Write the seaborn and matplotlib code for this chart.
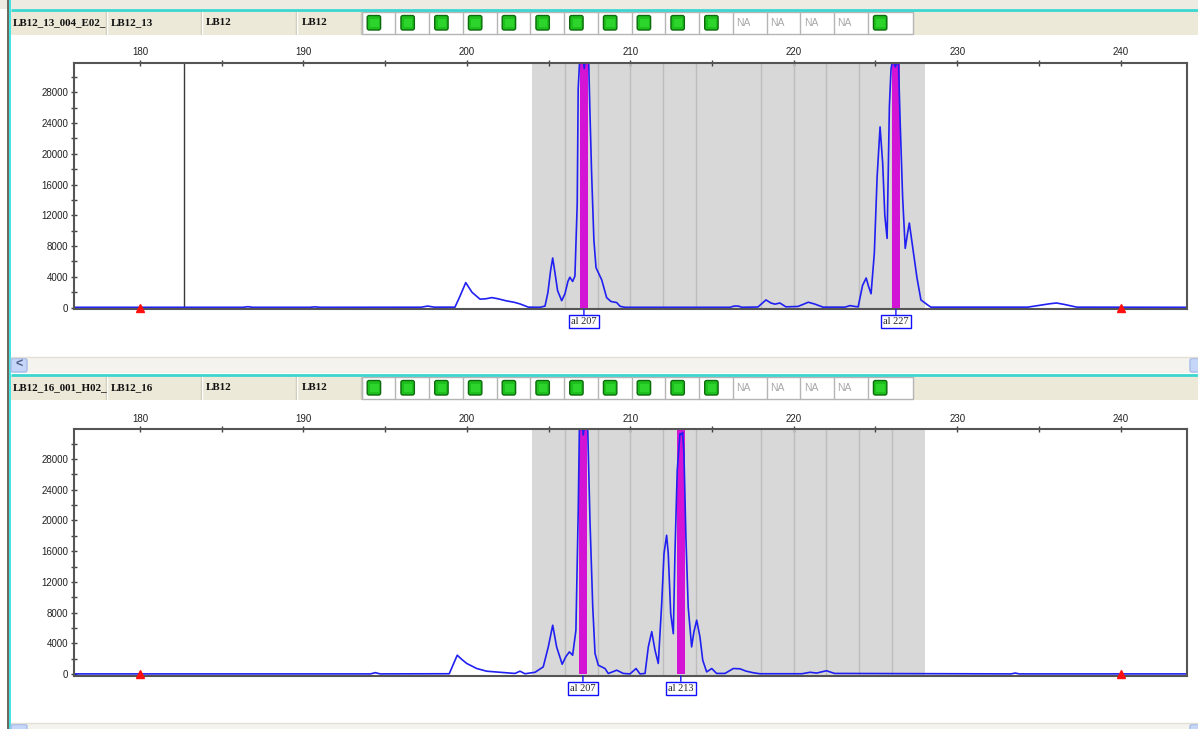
import matplotlib
matplotlib.use("Agg")
import matplotlib.pyplot as plt
from matplotlib.patches import Rectangle, FancyBboxPatch
from matplotlib.ticker import MultipleLocator
import seaborn as sns
import pandas as pd

W, H = 1198, 729

# header cells for the two samples
sample_files = ["LB12_13_004_E02_", "LB12_16_001_H02_"]
sample_names = ["LB12_13", "LB12_16"]
panel_name = "LB12"
marker_name = "LB12"
status = ["ok"] * 11 + ["NA"] * 4 + ["ok"]

# bin set (bp) and size standard peaks
bin_start, bin_end = 204, 228
bin_lines = [206, 208, 210, 212, 214, 218, 220, 222, 224, 226]
size_std = [180, 240]

# electropherogram, top sample (size in bp, height in RFU)
top_size = [175.96, 183.0, 186.3, 186.6, 186.9, 190.4, 190.7, 191.0, 197.2, 197.6,
            198.0, 199.27, 199.58, 199.93, 200.31, 200.80, 201.17, 201.52, 201.90, 202.43,
            202.88, 203.25, 203.76, 204.47, 204.78, 204.96, 205.12, 205.25, 205.39, 205.55,
            205.80, 206.00, 206.18, 206.30, 206.47, 206.61, 206.75, 206.81, 206.92, 207.04,
            207.18, 207.32, 207.44, 207.53, 207.63, 207.77, 207.90, 208.25, 208.55, 208.81,
            209.17, 209.37, 209.67, 216.10, 216.35, 216.60, 216.83, 217.81, 218.30, 218.60,
            218.85, 219.15, 219.52, 220.26, 220.89, 221.30, 221.79, 223.13, 223.44, 223.74,
            223.94, 224.21, 224.43, 224.57, 224.73, 224.93, 225.10, 225.28, 225.44, 225.57,
            225.71, 225.85, 225.95, 226.05, 226.21, 226.40, 226.50, 226.66, 226.82, 226.95,
            227.07, 227.27, 227.54, 227.78, 228.19, 228.39, 234.32, 235.05, 235.66, 236.08,
            236.58, 237.32, 244.03]
top_rfu = [40, 40, 40, 120, 40, 40, 100, 40, 50, 200,
           60, 60, 1500, 3250, 2000, 1100, 1150, 1300, 1150, 870,
           700, 480, 60, 40, 200, 2000, 4800, 6450, 4500, 2200,
           900, 1800, 3400, 3950, 3400, 4100, 13500, 28500, 33000, 33500,
           31100, 33500, 33000, 25300, 17500, 8800, 5200, 3600, 1300, 800,
           650, 170, 40, 40, 200, 200, 40, 80, 1000, 600,
           450, 600, 100, 150, 700, 450, 60, 60, 260, 150,
           100, 2900, 3850, 2800, 1800, 7100, 17000, 23500, 18800, 12000,
           9000, 26100, 31000, 32300, 31300, 32300, 24800, 14400, 7700, 9500,
           11000, 7950, 3850, 1000, 350, 60, 60, 300, 500, 600,
           400, 60, 40]

# electropherogram, bottom sample
bot_size = [175.96, 194.10, 194.40, 194.70, 198.92, 199.15, 199.41, 199.70, 199.99, 200.60,
            201.21, 202.33, 202.94, 203.25, 203.55, 204.17, 204.67, 204.98, 205.25, 205.49,
            205.83, 206.06, 206.27, 206.47, 206.67, 206.81, 206.89, 207.01, 207.12, 207.26,
            207.38, 207.43, 207.53, 207.70, 207.84, 208.04, 208.45, 208.65, 209.17, 209.57,
            209.98, 210.35, 210.59, 210.90, 211.10, 211.31, 211.51, 211.71, 211.92, 212.06,
            212.22, 212.32, 212.47, 212.63, 212.73, 212.87, 213.04, 213.13, 213.20, 213.28,
            213.40, 213.54, 213.75, 213.89, 214.06, 214.26, 214.43, 214.67, 214.98, 215.28,
            215.79, 216.30, 216.71, 217.08, 217.50, 217.93, 220.50, 221.00, 221.40, 222.00,
            222.50, 233.30, 233.55, 233.80, 244.03]
bot_rfu = [40, 40, 200, 40, 60, 1200, 2470, 1900, 1400, 740,
           390, 200, 100, 390, 60, 250, 950, 3550, 6370, 3550,
           1300, 2300, 2900, 2470, 5700, 21000, 33000, 33500, 31100, 33500,
           33000, 28700, 20000, 8750, 2700, 1170, 740, 90, 520, 100,
           40, 740, 40, 100, 3550, 5530, 3120, 1400, 9200, 15700,
           18070, 15700, 7900, 5270, 15700, 26500, 31300, 31150, 31450, 28700,
           17850, 8750, 3550, 5500, 7020, 4850, 1820, 300, 740, 100,
           100, 740, 700, 400, 200, 60, 60, 250, 150, 450,
           100, 40, 150, 40, 40]

# allele calls
top_calls = [207.16, 226.25]
top_call_labels = ["207", "227"]
bot_calls = [207.10, 213.09]
bot_call_labels = ["207", "213"]
top_cursor = 182.69

sns.set_style("white")
plt.rcParams["font.family"] = ["Liberation Sans", "DejaVu Sans"]

fig = plt.figure(figsize=(W / 100, H / 100), dpi=100)

# window chrome, drawn in pixel coordinates
ov = fig.add_axes([0, 0, 1, 1])
ov.set_xlim(0, W)
ov.set_ylim(H, 0)
ov.axis("off")

ov.add_patch(Rectangle((0, 0), W, 9, fc="#EEECE2", ec="none"))
ov.add_patch(Rectangle((6.5, 0), 2.5, H, fc="#6E6A5E", ec="none"))
ov.add_patch(Rectangle((9, 0), 1.5, H, fc="#45E3E3", ec="none"))


def header(y0, fname, sname):
    ov.add_patch(Rectangle((10.5, y0), W - 10, 25, fc="#ECE9D8", ec="none"))
    ov.plot([10.5, W], [y0, y0], color="#3CD6D0", lw=2, solid_capstyle="butt")
    for xs in [107, 202, 297, 362]:
        ov.plot([xs - 1, xs - 1], [y0 + 2, y0 + 24], color="#C8C4B0", lw=1)
        ov.plot([xs, xs], [y0 + 2, y0 + 24], color="white", lw=1)
    for tx, t in zip([13, 111, 206, 302], [fname, sname, panel_name, marker_name]):
        ov.text(tx, y0 + 12.5, t, fontsize=7.9, fontweight="bold",
                family="Liberation Serif", va="center", ha="left", color="#111111")
    cw = 33.75
    ov.add_patch(Rectangle((361.5, y0 + 2), 551, 22, fc="white", ec="#B5B5B5", lw=1))
    for i, s in enumerate(status):
        cx = 361.5 + i * cw
        ov.plot([cx, cx], [y0 + 2, y0 + 24], color="#B5B5B5", lw=1)
        if s == "ok":
            ov.add_patch(FancyBboxPatch((cx + 5.7, y0 + 5.5), 13.4, 14.5,
                                        boxstyle="round,pad=0,rounding_size=2",
                                        fc="#1DC01D", ec="#0D6A0D", lw=1))
            ov.add_patch(Rectangle((cx + 8.5, y0 + 8.5), 8.5, 8.5, fc="#2CD42C", ec="none"))
        else:
            ov.text(cx + 3.5, y0 + 12.5, "NA", fontsize=7.5, color="#A8A8A8",
                    va="center", ha="left")


def scrollbar(y0, h, arrow=True):
    ov.add_patch(Rectangle((10.5, y0), W - 10, h, fc="#F4F3EE", ec="none"))
    ov.plot([10.5, W], [y0, y0], color="#E2E0D6", lw=1)
    for bx in [11, 1190]:
        ov.add_patch(FancyBboxPatch((bx, y0 + 1.5), 16, 13.5,
                                    boxstyle="round,pad=0,rounding_size=2",
                                    fc="#C6D6F8", ec="#A7BBE8", lw=1))
    if arrow:
        ov.text(19, y0 + 8, "<", fontsize=9, fontweight="bold", color="#4A5E86",
                ha="center", va="center")


header(10, sample_files[0], sample_names[0])
scrollbar(357, 16)
header(375, sample_files[1], sample_names[1])
scrollbar(723, 16, arrow=False)


def px_rect(left, top, right, bottom):
    return [left / W, 1 - bottom / H, (right - left) / W, (bottom - top) / H]


def panel(ax, sizes, rfu, calls, labels, cursor=None):
    ax.axvspan(bin_start, bin_end, color="#D8D8D8", lw=0, zorder=0.5)
    for b in bin_lines:
        ax.axvline(b, color="#BDBDBD", lw=1, zorder=0.6)
    if cursor is not None:
        ax.axvline(cursor, color="#3A3A3A", lw=1, zorder=0.7)
    ax.bar(calls, [40000] * len(calls), width=0.5, bottom=0, color="#D414D4",
           lw=0, zorder=1)
    df = pd.DataFrame({"size": sizes, "rfu": rfu})
    sns.lineplot(data=df, x="size", y="rfu", ax=ax, color="#2020F2", lw=1.2,
                 estimator=None, sort=False, zorder=2)
    ax.plot(size_std, [0] * len(size_std), ls="none", marker="^", ms=6,
            color="#FF1010", zorder=3, clip_on=False)
    for c, lab in zip(calls, labels):
        ax.annotate(f"al {lab}", xy=(c, 0), xycoords=("data", "axes fraction"),
                    xytext=(0, -12.5), textcoords="offset pixels",
                    ha="center", va="center", fontsize=7.5, family="Liberation Serif",
                    bbox=dict(boxstyle="square,pad=0.2", fc="white", ec="#1010FF", lw=1),
                    arrowprops=dict(arrowstyle="-", color="#1010FF", lw=1,
                                    shrinkA=0, shrinkB=0),
                    annotation_clip=False)
    ax.set_xlim(175.96, 244.03)
    ax.set_ylim(-220, 31850)
    ax.set_xlabel("")
    ax.set_ylabel("")
    ax.xaxis.tick_top()
    ax.xaxis.set_major_locator(MultipleLocator(10))
    ax.xaxis.set_minor_locator(MultipleLocator(5))
    ax.yaxis.set_major_locator(MultipleLocator(4000))
    ax.yaxis.set_minor_locator(MultipleLocator(2000))
    ax.tick_params(which="both", direction="inout", length=5, width=1,
                   color="#444444", labelsize=7, labelcolor="#222222", pad=1.5)
    ax.tick_params(axis="y", which="both", left=True, right=False)
    ax.tick_params(axis="x", which="both", top=True, bottom=False)
    for sp in ax.spines.values():
        sp.set_color("#555555")
        sp.set_linewidth(1.5)


ax1 = fig.add_axes(px_rect(74, 62.7, 1186.5, 309.3))
panel(ax1, top_size, top_rfu, top_calls, top_call_labels, cursor=top_cursor)
ax2 = fig.add_axes(px_rect(74, 429.3, 1186.5, 675.9))
panel(ax2, bot_size, bot_rfu, bot_calls, bot_call_labels)

fig.savefig("out.png", dpi=100)
